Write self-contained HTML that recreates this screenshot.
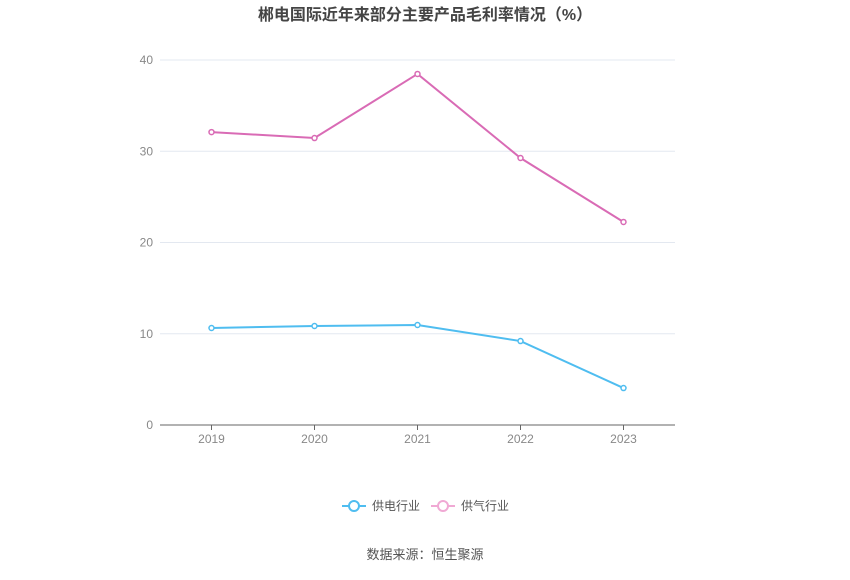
<!DOCTYPE html>
<html><head><meta charset="utf-8">
<style>
body{margin:0;background:#fff;width:850px;height:575px;overflow:hidden;font-family:"Liberation Sans","Noto Sans CJK SC",sans-serif;}
</style></head>
<body>
<svg width="850" height="575" xmlns="http://www.w3.org/2000/svg">
<text x="425" y="20" text-anchor="middle" font-size="16" font-weight="bold" fill="#444" font-family="Liberation Sans, Noto Sans CJK SC, sans-serif">郴电国际近年来部分主要产品毛利率情况（%）</text>
<g id="grid"></g>
<g id="series"></g>
<g font-size="12" fill="#555" font-family="Liberation Sans, Noto Sans CJK SC, sans-serif">
 <g>
  <line x1="342" y1="506" x2="366" y2="506" stroke="#4fbdf0" stroke-width="2"/>
  <circle cx="354" cy="506" r="5" fill="#fff" stroke="#4fbdf0" stroke-width="2"/>
  <text x="372" y="510">供电行业</text>
 </g>
 <g>
  <line x1="431" y1="506" x2="455" y2="506" stroke="#f0a9d4" stroke-width="2"/>
  <circle cx="443" cy="506" r="5" fill="#fff" stroke="#f0a9d4" stroke-width="2"/>
  <text x="461" y="510">供气行业</text>
 </g>
</g>
<text x="425" y="559" text-anchor="middle" font-size="13" fill="#555" font-family="Liberation Sans, Noto Sans CJK SC, sans-serif">数据来源：恒生聚源</text>
</svg>
<script>
const categories=["2019","2020","2021","2022","2023"];
const powerValues=[10.63,10.85,10.96,9.2,4.05];
const gasValues=[32.1,31.45,38.47,29.26,22.25];
const yTicks=[0,10,20,30,40];
const NS="http://www.w3.org/2000/svg";
const x0=160,x1=675,y0=425,y1=60;
const step=(x1-x0)/categories.length;
function xs(i){return x0+step*(i+0.5);}
function ys(v){return y0-(v/40)*(y0-y1);}
function mk(tag,attrs,parent){const e=document.createElementNS(NS,tag);for(const k in attrs)e.setAttribute(k,attrs[k]);parent.appendChild(e);return e;}
const grid=document.getElementById('grid');
yTicks.forEach(t=>{
 const l=mk('line',{x1:x0,x2:x1,y1:ys(t),y2:ys(t),stroke:t===0?'#666':'#e3e8f0','stroke-width':1},grid);
 
 
 const tx=mk('text',{x:153,y:ys(t)+4,'text-anchor':'end','font-size':12,fill:'#888'},grid);
 tx.textContent=t;
 
 
});
categories.forEach((c,i)=>{
 const tk=mk('line',{x1:xs(i),x2:xs(i),y1:y0,y2:y0+5,stroke:'#666'},grid);
 
 
 const tx=mk('text',{x:xs(i),y:y0+18,'text-anchor':'middle','font-size':12,fill:'#888'},grid);
 tx.textContent=c;
 
 
});
const sg=document.getElementById('series');
function drawSeries(vals,color,name){
 const p=mk('polyline',{points:vals.map((v,i)=>xs(i)+','+ys(v)).join(' '),fill:'none',stroke:color,'stroke-width':2},sg);
 
 
 vals.forEach((v,i)=>{
  const c=mk('circle',{cx:xs(i),cy:ys(v),r:2.5,fill:'#fff',stroke:color,'stroke-width':1.5},sg);
  
  
 });
}
drawSeries(gasValues,'#d96bb5','gas');
drawSeries(powerValues,'#4fbdf0','power');
</script>
</body></html>
